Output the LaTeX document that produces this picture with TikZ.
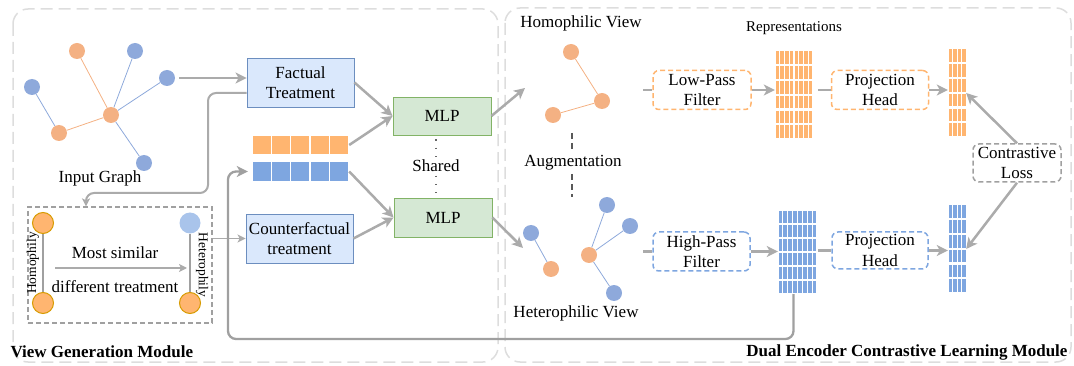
\documentclass[tikz,border=0pt]{standalone}
\usepackage{fontspec}
\setmainfont{Liberation Serif}
\usetikzlibrary{positioning,arrows.meta}

\definecolor{nodeOrange}{HTML}{F4B183}
\definecolor{nodeBlue}{HTML}{8EA9DB}
\definecolor{cellOrange}{HTML}{FFB570}
\definecolor{cellBlue}{HTML}{7EA6E0}
\definecolor{factFill}{HTML}{DAE8FC}
\definecolor{factDraw}{HTML}{6C8EBF}
\definecolor{mlpFill}{HTML}{D5E8D4}
\definecolor{mlpDraw}{HTML}{82B366}
\definecolor{arrowGray}{HTML}{ABABAB}
\definecolor{loopGray}{HTML}{A0A0A0}
\definecolor{moduleGray}{HTML}{DDDDDD}
\definecolor{homoDraw}{HTML}{D79B00}
\definecolor{lightBlue}{HTML}{A9C4EB}

\begin{document}
\begin{tikzpicture}[
        x=1pt,
        y=-1pt,
        every node/.style={
            font=\fontsize{17}{20.5}\selectfont
        },
        gnode/.style={
            circle,
            inner sep=0pt,
            minimum size=16pt
        },
        gedge/.style={
            line width=0.8pt
        },
        hnode/.style={
            circle,
            inner sep=0pt,
            minimum size=21pt
        },
        solidbox/.style={
            draw,
            line width=0.9pt,
            align=center,
            inner sep=0pt
        },
        dashbox/.style={
            draw,
            line width=1.5pt,
            dash pattern=on 5pt off 3pt,
            rounded corners=6pt,
            align=center,
            inner sep=0pt
        },
        grid/.style={
            inner sep=0pt
        },
        flow/.style={
            draw=arrowGray,
            line width=2.5pt,
            -{Stealth[length=11pt,width=11pt,inset=3pt]}
        },
        stub/.style={
            draw=arrowGray,
            line width=2.5pt
        },
        thinflow/.style={
            draw=arrowGray,
            line width=1.3pt,
            -{Stealth[length=8pt,width=8pt,inset=2pt]}
        },
        module/.style={
            draw=moduleGray,
            line width=1.5pt,
            dash pattern=on 12pt off 6pt,
            rounded corners=15pt
        }
    ]

    \useasboundingbox (0,0) rectangle (1074,366);

    % Module frames
    \draw[module] (13,9) rectangle (498,362);
    \draw[module] (505,8) rectangle (1071,362);

    \node[anchor=west, font=\fontsize{17}{20.5}\selectfont\bfseries] (vgm) at (7,352) {View Generation Module};
    \node[anchor=east, font=\fontsize{17}{20.5}\selectfont\bfseries] (dcm) at (1071,352) {Dual Encoder Contrastive Learning Module};

    % Input graph
    \node[gnode, fill=nodeOrange] (ig1) at (77,51) {};
    \node[gnode, fill=nodeBlue] (ig2) at (135,51) {};
    \node[gnode, fill=nodeBlue] (ig3) at (167,78) {};
    \node[gnode, fill=nodeBlue] (ig4) at (32,87) {};
    \node[gnode, fill=nodeOrange] (ig5) at (111,115) {};
    \node[gnode, fill=nodeOrange] (ig6) at (59,133) {};
    \node[gnode, fill=nodeBlue] (ig7) at (144,163) {};

    \draw[gedge, nodeOrange] (ig1) -- (ig5);
    \draw[gedge, nodeOrange] (ig6) -- (ig5);
    \draw[gedge, nodeBlue] (ig4) -- (ig6);
    \foreach \j in {2,3,7}
        \draw[gedge, nodeBlue] (ig5) -- (ig\j);

    \node (inlabel) at (100,178) {Input Graph};

    % Treatment boxes
    \node[solidbox, draw=factDraw, fill=factFill, minimum width=107pt, minimum height=49pt] (fact) at (300.5,82.5) {Factual\\Treatment};
    \node[solidbox, draw=factDraw, fill=factFill, minimum width=107pt, minimum height=49pt] (cf) at (299.5,238.5) {Counterfactual\\treatment};

    % Homophily / heterophily pairs
    \node[draw=loopGray, line width=1.2pt, dash pattern=on 5pt off 3pt, minimum width=184pt, minimum height=116pt] (treat) at (120,265) {};

    \node[hnode, fill=cellOrange, draw=homoDraw, line width=1pt] (ho1) at (43,223) {};
    \node[hnode, fill=cellOrange, draw=homoDraw, line width=1pt] (ho2) at (43,303) {};
    \node[hnode, fill=lightBlue] (he1) at (190,223) {};
    \node[hnode, fill=cellOrange, draw=homoDraw, line width=1pt] (he2) at (190,303) {};

    \draw[loopGray, line width=1.5pt] (ho1) -- (ho2);
    \draw[loopGray, line width=1.5pt] (he1) -- (he2);

    \node[rotate=90, font=\fontsize{13.5}{15}\selectfont] (holabel) at (33,263) {Homophily};
    \node[rotate=-90, font=\fontsize{13.5}{15}\selectfont] (helabel) at (202,265) {Heterophily};

    \node (simtext) at (115,253) {Most similar};
    \node (difftext) at (115,287) {different treatment};

    \coordinate (simL) at (55,268);
    \coordinate (simR) at (187,268);
    \draw[thinflow] (simL) -- (simR);

    % Feature bars
    \node[grid, minimum width=96pt, minimum height=18pt] (barO) at (301,145) {};
    \node[grid, minimum width=96pt, minimum height=19pt] (barB) at (301,171.5) {};
    \foreach \c in {0,...,4} {
        \fill[cellOrange] ({253+\c*19.2},136) rectangle +(18,18);
        \fill[cellBlue] ({253+\c*19.2},162) rectangle +(18,19);
    }

    % Shared encoders
    \node[solidbox, draw=mlpDraw, fill=mlpFill, minimum width=98pt, minimum height=38pt] (mlpA) at (442,116) {MLP};
    \node[solidbox, draw=mlpDraw, fill=mlpFill, minimum width=98pt, minimum height=39pt] (mlpB) at (443,217.5) {MLP};
    \node (shared) at (436,166) {Shared};
    \draw[black!60, line width=1.3pt, dash pattern=on 1.3pt off 7pt] (mlpA.south -| shared) ++(0,4) -- (shared.north);
    \draw[black!60, line width=1.3pt, dash pattern=on 1.3pt off 7pt] (shared.south) -- (mlpB.north -| shared);

    % Connectors of the generation module
    \draw[flow, shorten <=4pt] (ig3.east) -- (ig3 -| fact.west);
    \coordinate (bendA) at (208,193);
    \draw[thinflow, line width=2pt, rounded corners=8pt] ([yshift=-10.5pt]fact.west) -| (bendA) -| ([xshift=-34pt]treat.north);
    \draw[thinflow] (treat.east |- cf.west) -- (cf.west);
    \draw[flow] (fact.east) -- (mlpA.west);
    \draw[flow] (barO.east) -- (mlpA.west);
    \draw[flow] (barB.east) -- (mlpB.west);
    \draw[flow] (cf.east) -- (mlpB.west);

    \coordinate (homIn) at (525,88);
    \coordinate (hetIn) at (523,248);
    \draw[flow] (mlpA.east) -- (homIn);
    \draw[flow] (mlpB.east) -- (hetIn);

    % Homophilic view
    \node (homlabel) at (581,23) {Homophilic View};
    \node[gnode, fill=nodeOrange] (hv1) at (571,52) {};
    \node[gnode, fill=nodeOrange] (hv2) at (602,101) {};
    \node[gnode, fill=nodeOrange] (hv3) at (553,115) {};
    \draw[gedge, nodeOrange] (hv1) -- (hv2);
    \draw[gedge, nodeOrange] (hv3) -- (hv2);

    % Augmentation
    \node (aug) at (573,163) {Augmentation};
    \coordinate (augTop) at (572,133);
    \coordinate (augBot) at (572,197);
    \draw[black!65, line width=1.5pt, dash pattern=on 6pt off 4pt] (augTop) -- (augTop |- aug.north);
    \draw[black!65, line width=1.5pt, dash pattern=on 6pt off 4pt] (augBot |- aug.south) -- (augBot);

    % Heterophilic view
    \node[gnode, fill=nodeBlue] (hx1) at (531,233) {};
    \node[gnode, fill=nodeOrange] (hx2) at (551,269) {};
    \node[gnode, fill=nodeOrange] (hx3) at (589,255) {};
    \node[gnode, fill=nodeBlue] (hx4) at (607,205) {};
    \node[gnode, fill=nodeBlue] (hx5) at (630,226) {};
    \node[gnode, fill=nodeBlue] (hx6) at (614,293) {};
    \draw[gedge, nodeBlue] (hx1) -- (hx2);
    \foreach \j in {4,5,6}
        \draw[gedge, nodeBlue] (hx3) -- (hx\j);
    \node (hetlabel) at (576,313) {Heterophilic View};

    % Filters
    \node[dashbox, draw=cellOrange, minimum width=98pt, minimum height=39pt] (lp) at (702,90) {Low-Pass\\Filter};
    \node[dashbox, draw=cellBlue, minimum width=97pt, minimum height=39pt] (hp) at (701.5,251.5) {High-Pass\\Filter};
    \coordinate (lpIn) at (643,90);
    \coordinate (hpIn) at (643,251.5);
    \draw[stub] (lpIn) -- (lp.west);
    \draw[stub] (hpIn) -- (hp.west);

    % Representations
    \node[font=\fontsize{15}{17}\selectfont] (replabel) at (794,28) {Representations};
    \node[grid, minimum width=38pt, minimum height=88pt] (repH) at (794,95) {};
    \node[grid, minimum width=39pt, minimum height=83pt] (repL) at (797.5,252.5) {};
    \foreach \r in {0,...,5}
        \foreach \c in {0,...,7} {
            \fill[cellOrange] ({775.5+\c*4.75},{51.5+\r*14.8}) rectangle +(3.5,12.6);
            \fill[cellBlue] ({778.5+\c*4.9},{211.5+\r*13.9}) rectangle +(3.6,11.9);
        }

    \draw[flow] (lp.east) -- (lp.east -| repH.west);
    \draw[flow] (hp.east) -- (hp.east -| repL.west);

    % Projection heads
    \node[dashbox, draw=cellOrange, minimum width=97pt, minimum height=39pt] (phA) at (880,90) {Projection\\Head};
    \node[dashbox, draw=cellBlue, minimum width=96pt, minimum height=37pt] (phB) at (880,250.5) {Projection\\Head};
    \draw[stub, shorten <=5pt] (repH.east |- phA.west) -- (phA.west);
    \draw[stub, shorten <=1pt] (repL.east |- phB.west) -- (phB.west);

    % Projected outputs
    \node[grid, minimum width=18pt, minimum height=88pt] (outA) at (957,93) {};
    \node[grid, minimum width=18pt, minimum height=88pt] (outB) at (957,249) {};
    \foreach \r in {0,...,5}
        \foreach \c in {0,...,3} {
            \fill[cellOrange] ({948.5+\c*4.5},{49.5+\r*14.8}) rectangle +(3.5,12.6);
            \fill[cellBlue] ({948.5+\c*4.5},{205.5+\r*14.8}) rectangle +(3.5,12.6);
        }

    \draw[flow] (phA.east) -- (phA.east -| outA.west);
    \draw[flow] (phB.east) -- (phB.east -| outB.west);

    % Contrastive loss
    \node[dashbox, draw=loopGray, minimum width=88pt, minimum height=38pt] (cl) at (1017,163) {Contrastive\\Loss};
    \draw[flow] (cl.north) -- (outA.east);
    \draw[flow] (cl.south) -- (outB.east);

    % Feedback loop
    \coordinate (loopBL) at (228,339);
    \draw[flow, draw=loopGray, line width=2.3pt, rounded corners=8pt, shorten >=5pt] ([xshift=-4pt]repL.south) |- (loopBL) |- (barB.west);

\end{tikzpicture}
\end{document}
